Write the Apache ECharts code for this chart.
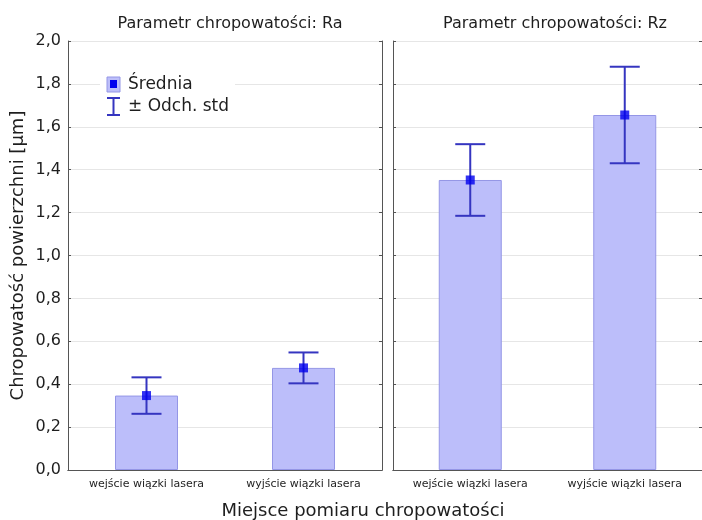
<!DOCTYPE html>
<html>
<head>
<meta charset="utf-8">
<script src="https://cdn.jsdelivr.net/npm/echarts@6/dist/echarts.min.js"></script>
<style>
html,body{margin:0;padding:0;background:#fff;}
#chart{width:702px;height:520px;}
</style>
</head>
<body>
<div id="chart"></div>
<script>
// Measurement places (categories) shared by both panels
var categories = ['wejście wiązki lasera', 'wyjście wiązki lasera'];
// Ra: mean and standard deviation [µm]
var raMean = [0.347, 0.476];
var raSd = [0.085, 0.072];
// Rz: mean and standard deviation [µm]
var rzMean = [1.352, 1.655];
var rzSd = [0.167, 0.225];
// Value axis range and step
var yMin = 0, yMax = 2.0, yStep = 0.2;
var panelTitles = ['Parametr chropowatości: Ra', 'Parametr chropowatości: Rz'];

var FONT = 'DejaVu Sans, Liberation Sans, sans-serif';
var TXT = '#1e1e1e';
var BORDER = '#555';
var BAR_FILL = '#bcbefa';
var BAR_EDGE = '#9496e6';
var ERR = '#3535c0';
var MEAN = '#0000ee';

function fmt(v){ return v.toFixed(1).replace('.', ','); }

function errItem(params, api){
  var i = api.value(0);
  var lo = api.coord([i, api.value(1)]);
  var hi = api.coord([i, api.value(2)]);
  var half = 15;
  var st = {stroke: ERR, lineWidth: 2};
  return {type: 'group', children: [
    {type: 'line', shape: {x1: lo[0], y1: lo[1], x2: hi[0], y2: hi[1]}, style: st},
    {type: 'line', shape: {x1: lo[0]-half, y1: lo[1], x2: lo[0]+half, y2: lo[1]}, style: st},
    {type: 'line', shape: {x1: hi[0]-half, y1: hi[1], x2: hi[0]+half, y2: hi[1]}, style: st}
  ]};
}

function errData(mean, sd){
  return mean.map(function(m, i){ return [i, m - sd[i], m + sd[i]]; });
}

var grids = [
  {left: 68, top: 41, width: 314, height: 429},
  {left: 393, top: 41, width: 314, height: 429}
];

var xAxes = [], yAxes = [], series = [];
[raMean, rzMean].forEach(function(mean, g){
  var sd = g === 0 ? raSd : rzSd;
  // bottom category axis
  xAxes.push({
    type: 'category', gridIndex: g, data: categories, position: 'bottom',
    axisLine: {lineStyle: {color: BORDER, width: 1}},
    axisTick: {inside: true, alignWithLabel: true, length: 4, lineStyle: {color: BORDER}},
    axisLabel: {fontFamily: FONT, fontSize: 11, color: TXT, margin: 9}
  });
  // top border with ticks
  xAxes.push({
    type: 'category', gridIndex: g, data: categories, position: 'top',
    axisLine: {lineStyle: {color: BORDER, width: 1}},
    axisTick: {inside: true, alignWithLabel: true, length: 4, lineStyle: {color: BORDER}},
    axisLabel: {show: false}
  });
  // left value axis
  yAxes.push({
    type: 'value', gridIndex: g, min: yMin, max: yMax, interval: yStep, position: 'left',
    name: g === 0 ? 'Chropowatość powierzchni [µm]' : '',
    nameLocation: 'middle', nameGap: 41,
    nameTextStyle: {fontFamily: FONT, fontSize: 18, color: TXT},
    axisLine: {show: true, lineStyle: {color: BORDER, width: 1}},
    axisTick: {show: true, inside: true, length: 3, lineStyle: {color: BORDER}},
    axisLabel: {show: g === 0, fontFamily: FONT, fontSize: 16, color: TXT, margin: 7, formatter: fmt},
    splitLine: {show: true, lineStyle: {color: '#e6e6e6', width: 1}}
  });
  // right value axis (border with ticks)
  yAxes.push({
    type: 'value', gridIndex: g, min: yMin, max: yMax, interval: yStep, position: 'right',
    axisLine: {show: true, lineStyle: {color: BORDER, width: 1}},
    axisTick: {show: true, inside: true, length: 3, lineStyle: {color: BORDER}},
    axisLabel: {show: false},
    splitLine: {show: false}
  });
  var xi = g * 2, yi = g * 2;
  series.push({
    type: 'bar', xAxisIndex: xi, yAxisIndex: yi, data: mean, barWidth: 63,
    itemStyle: {color: BAR_FILL, borderColor: BAR_EDGE, borderWidth: 1},
    silent: true, z: 2
  });
  series.push({
    type: 'custom', xAxisIndex: xi, yAxisIndex: yi, data: errData(mean, sd),
    renderItem: errItem, encode: {x: 0, y: [1, 2]}, silent: true, z: 3
  });
  series.push({
    type: 'scatter', xAxisIndex: xi, yAxisIndex: yi, data: mean,
    symbol: 'rect', symbolSize: 9, itemStyle: {color: MEAN}, silent: true, z: 4
  });
});

// legend box drawn on top of the grid lines
var LX = 100, LY = 72, LZ = 100;
var legend = [
  {type: 'rect', z: LZ, shape: {x: LX, y: LY, width: 135, height: 48}, style: {fill: '#fff'}},
  {type: 'rect', z: LZ + 1, shape: {x: LX + 7, y: LY + 5, width: 13, height: 15},
   style: {fill: BAR_FILL, stroke: BAR_EDGE, lineWidth: 1}},
  {type: 'rect', z: LZ + 2, shape: {x: LX + 10, y: LY + 8, width: 7, height: 8}, style: {fill: MEAN}},
  {type: 'text', z: LZ + 1, x: LX + 28, y: LY + 13,
   style: {text: 'Średnia', font: '17px ' + FONT, fill: TXT, textVerticalAlign: 'middle'}},
  {type: 'line', z: LZ + 1, shape: {x1: LX + 7, y1: LY + 26, x2: LX + 20, y2: LY + 26}, style: {stroke: ERR, lineWidth: 2}},
  {type: 'line', z: LZ + 1, shape: {x1: LX + 13.5, y1: LY + 26, x2: LX + 13.5, y2: LY + 43}, style: {stroke: ERR, lineWidth: 2}},
  {type: 'line', z: LZ + 1, shape: {x1: LX + 7, y1: LY + 43, x2: LX + 20, y2: LY + 43}, style: {stroke: ERR, lineWidth: 2}},
  {type: 'text', z: LZ + 1, x: LX + 28, y: LY + 35,
   style: {text: '± Odch. std', font: '17px ' + FONT, fill: TXT, textVerticalAlign: 'middle'}}
];

var chart = echarts.init(document.getElementById('chart'), null, {renderer: 'canvas'});
chart.setOption({
  backgroundColor: '#fff',
  animation: false,
  title: [
    {text: panelTitles[0], left: 225, top: 11, textAlign: 'center',
     textStyle: {fontFamily: FONT, fontSize: 16, fontWeight: 'normal', color: TXT}},
    {text: panelTitles[1], left: 550, top: 11, textAlign: 'center',
     textStyle: {fontFamily: FONT, fontSize: 16, fontWeight: 'normal', color: TXT}},
    {text: 'Miejsce pomiaru chropowatości', left: 358, top: 497, textAlign: 'center',
     textStyle: {fontFamily: FONT, fontSize: 18, fontWeight: 'normal', color: TXT}}
  ],
  grid: grids,
  xAxis: xAxes,
  yAxis: yAxes,
  series: series,
  graphic: {elements: legend}
});
</script>
</body>
</html>
